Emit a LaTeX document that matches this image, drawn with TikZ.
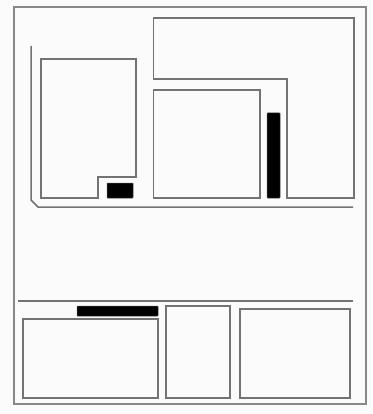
\documentclass[tikz,border=0pt]{standalone}
\definecolor{wallgray}{gray}{0.45}
\definecolor{paper}{gray}{0.985}
\tikzset{
  wall/.style={draw=wallgray,line width=1.5pt,line join=miter},
  outerwall/.style={draw=wallgray!85,line width=1.9pt},
  solidblock/.style={fill=black,draw=black!70,line width=0.5pt,rounded corners=0.6pt}
}
\begin{document}
\begin{tikzpicture}[x=1pt,y=-1pt]
\useasboundingbox (0,0) rectangle (372,414);
\fill[paper] (0,0) rectangle (372,414);
% outer frame
\draw[outerwall] (14,7) rectangle (366,404);
% upper right L-shaped room
\draw[wall] (153.5,18) -- (354,18) -- (354,198) -- (287,198) -- (287,79) -- (153.5,79) -- cycle;
% middle room
\draw[wall] (153.5,90) rectangle (260,198);
% left room with notch
\draw[wall] (41,59) -- (136,59) -- (136,177) -- (98,177) -- (98,198) -- (41,198) -- cycle;
% corridor line
\draw[wall] (31,46) -- (31,200) -- (38,207) -- (353,207);
% divider
\draw[wall] (18,301) -- (353,301);
% bottom rooms
\draw[wall] (23,319) rectangle (158,398);
\draw[wall] (166,306) rectangle (230,398);
\draw[wall] (240,309) rectangle (350,398);
% solid blocks
\fill[solidblock] (107,183) rectangle (133,198);
\fill[solidblock] (267,113) rectangle (280,198);
\fill[solidblock] (77,306) rectangle (158,316);
\end{tikzpicture}
\end{document}
